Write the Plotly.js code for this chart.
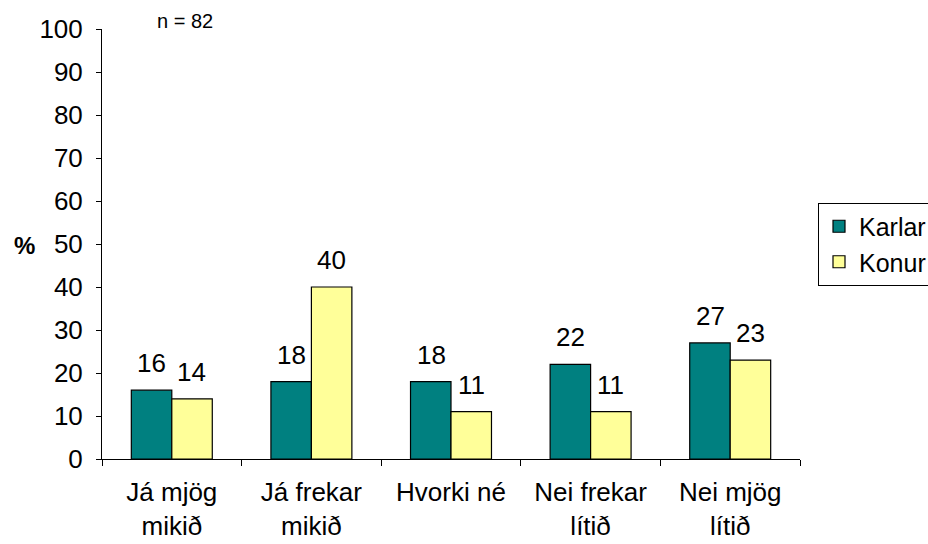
<!DOCTYPE html>
<html><head><meta charset="utf-8">
<script src="https://cdn.plot.ly/plotly-3.0.1.min.js"></script>
<style>body{margin:0;}#c{width:928px;height:544px;}</style>
</head><body><div id="c"></div>
<script>
const categories = ["Já mjög<br>mikið", "Já frekar<br>mikið", "Hvorki né", "Nei frekar<br>lítið", "Nei mjög<br>lítið"];
const karlar = [16, 18, 18, 22, 27];
const konur = [14, 40, 11, 11, 23];
const seriesNames = ["Karlar", "Konur"];
const yTicks = [0,10,20,30,40,50,60,70,80,90,100];

const font = "Liberation Sans, Arial, sans-serif";
const mk = (y, name, color) => ({
  type: "bar", x: categories, y: y, name: name,
  marker: {color: color, line: {color: "#000", width: 1.2}},
  cliponaxis: false
});
const data = [mk(karlar, seriesNames[0], "#008080"), mk(konur, seriesNames[1], "#FFFF99")];

const labelAnn = (vals, shift) => vals.map((v, i) => ({
  x: categories[i], y: v, xref: "x", yref: "y", text: String(v),
  xshift: shift, yshift: 10, yanchor: "bottom", xanchor: "center", showarrow: false,
  font: {family: font, size: 26, color: "#000"}
}));

const layout = {
  width: 928, height: 544,
  margin: {l: 102, r: 128, t: 29, b: 85},
  paper_bgcolor: "#fff", plot_bgcolor: "#fff",
  font: {family: font, color: "#000"},
  barmode: "group", bargap: 0.42, bargroupgap: 0,
  xaxis: {type: "category", tickson: "boundaries", ticks: "outside", ticklen: 6,
    tickcolor: "#000", showline: true, linecolor: "#000", linewidth: 1,
    ticklabelstandoff: 10,
    tickfont: {family: font, size: 26, color: "#000"}, showgrid: false},
  yaxis: {range: [0, 100], tickvals: yTicks, ticks: "outside", ticklen: 5,
    tickcolor: "#000", showline: true, linecolor: "#000", linewidth: 1,
    showgrid: false, zeroline: false, ticklabelstandoff: 8,
    tickfont: {family: font, size: 26, color: "#000"}},
  legend: {xref: "container", yref: "container", x: 818/928, xanchor: "left", y: (544-244)/544, yanchor: "middle",
    bordercolor: "#000", borderwidth: 1, font: {family: font, size: 25, color: "#000"},
    traceorder: "normal", itemwidth: 30, tracegroupgap: 0},
  showlegend: true,
  annotations: [
    {text: "n = 82", xref: "paper", yref: "paper", x: (185-102)/698, xanchor: "center", y: (459-21)/430, yanchor: "middle", showarrow: false,
      font: {family: font, size: 20, color: "#000"}},
    {text: "<b>%</b>", xref: "paper", yref: "paper", x: (24-102)/698, xanchor: "center", y: (459-245)/430, yanchor: "middle", showarrow: false,
      font: {family: font, size: 24, color: "#000"}}
  ].concat(labelAnn(karlar, -20), labelAnn(konur, 20))
};
Plotly.newPlot("c", data, layout, {displayModeBar: false});
</script></body></html>
